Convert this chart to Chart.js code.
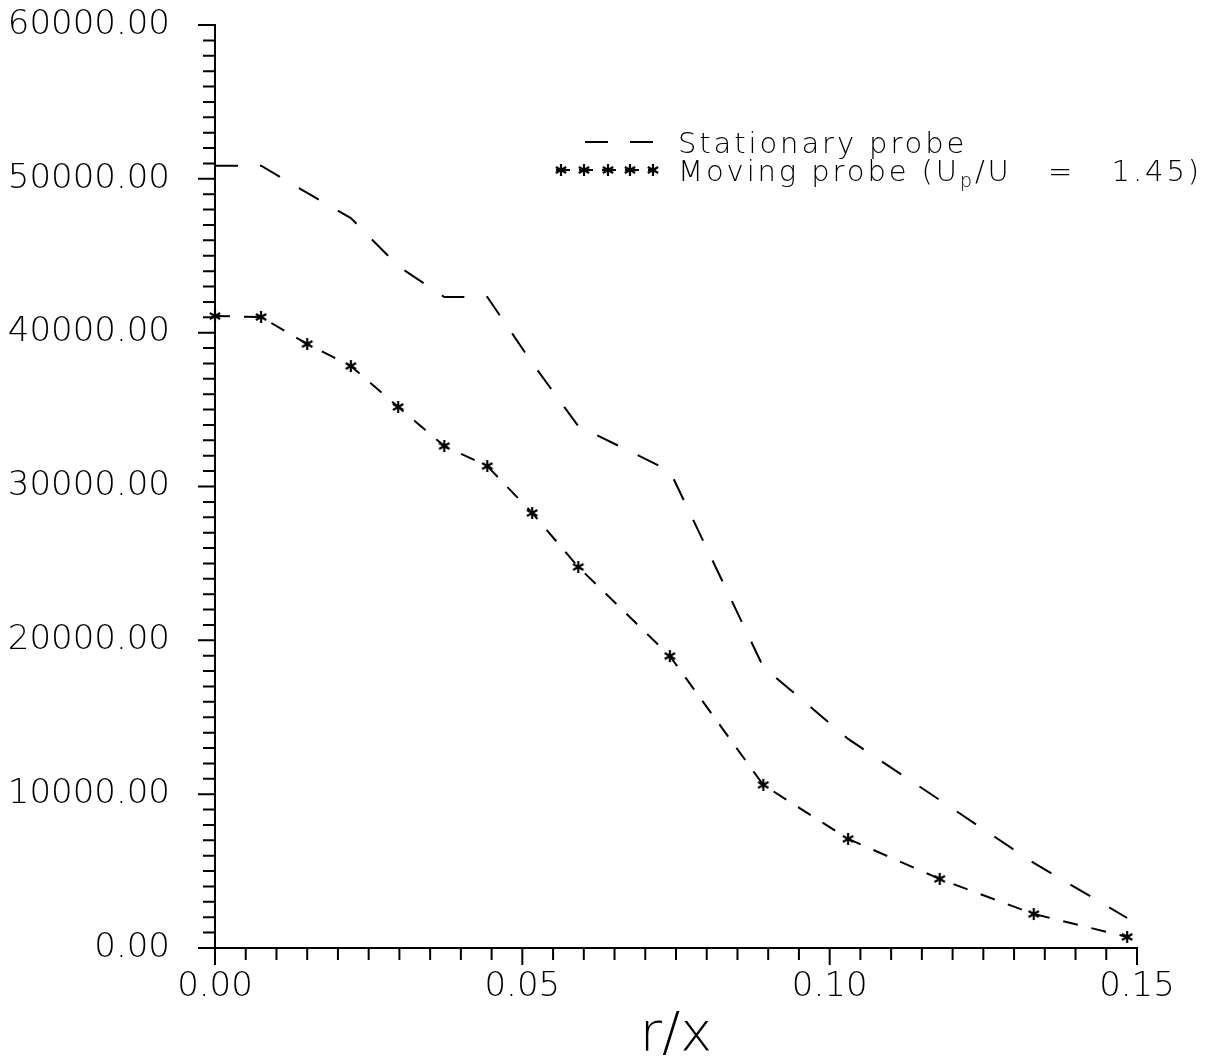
<!DOCTYPE html>
<html>
<head>
<meta charset="utf-8">
<script src="https://cdn.jsdelivr.net/npm/chart.js@4.4.0/dist/chart.umd.min.js"></script>
<style>
  html, body { margin: 0; padding: 0; background: #fff; }
  #wrap { width: 1207px; height: 1064px; }
</style>
</head>
<body>
<div id="wrap"><canvas id="probeChart" width="1207" height="1064"></canvas></div>
<script>
// r/x stations
const rOverX = [0, 0.0075, 0.0150, 0.0221, 0.0298, 0.0373, 0.0443, 0.0516, 0.0591, 0.0740, 0.0892, 0.1030, 0.1179, 0.1332, 0.1484];
const stationary = [50850, 50850, 49080, 47450, 44330, 42320, 42320, 38030, 33930, 31010, 18270, 13590, 9620, 5530, 1950];
const moving = [41080, 41020, 39260, 37830, 35170, 32630, 31330, 28280, 24770, 18980, 10600, 7090, 4490, 2210, 720];

const xTicks = [0, 0.05, 0.10, 0.15];
const yTicks = [0, 10000, 20000, 30000, 40000, 50000, 60000];
const xMinorStep = 0.005;
const yMinorStep = 1000;

const FONT = '"DejaVu Sans", sans-serif';

// six-armed asterisk used as point marker
function asterisk(r) {
  const c = document.createElement('canvas');
  c.width = c.height = 2 * r + 4;
  const g = c.getContext('2d');
  const m = r + 2;
  g.strokeStyle = '#000';
  g.lineWidth = 2.2;
  g.beginPath();
  for (let k = 0; k < 3; k++) {
    const a = Math.PI / 2 + k * Math.PI / 3;
    g.moveTo(m - r * Math.cos(a), m - r * Math.sin(a));
    g.lineTo(m + r * Math.cos(a), m + r * Math.sin(a));
  }
  g.stroke();
  return c;
}
const star = asterisk(6);

// minor + major tick marks on the outside of both axes
const tickMarks = {
  id: 'tickMarks',
  afterDraw(chart) {
    const { ctx, scales: { x, y } } = chart;
    ctx.save();
    ctx.strokeStyle = '#000';
    ctx.lineWidth = 2;
    ctx.beginPath();
    const nx = Math.round((x.max - x.min) / xMinorStep);
    for (let i = 0; i <= nx; i++) {
      const px = x.getPixelForValue(x.min + i * xMinorStep);
      const len = i % 10 === 0 ? 17 : 12;
      ctx.moveTo(px, x.top);
      ctx.lineTo(px, x.top + len);
    }
    const ny = Math.round((y.max - y.min) / yMinorStep);
    for (let i = 0; i <= ny; i++) {
      const py = y.getPixelForValue(y.min + i * yMinorStep);
      const len = i % 10 === 0 ? 17 : 12;
      ctx.moveTo(y.right, py);
      ctx.lineTo(y.right - len, py);
    }
    ctx.stroke();
    ctx.restore();
  }
};

// legend in the upper right, drawn by hand for the subscript
const probeLegend = {
  id: 'probeLegend',
  afterDraw(chart) {
    const { ctx } = chart;
    const ds = chart.data.datasets;
    ctx.save();
    ctx.strokeStyle = '#000';
    ctx.fillStyle = '#000';
    ctx.lineWidth = 2;
    ctx.letterSpacing = '2.9px';
    ctx.textBaseline = 'alphabetic';
    ctx.font = '200 29px ' + FONT;

    // row 1
    ctx.setLineDash(ds[0].borderDash);
    ctx.beginPath();
    ctx.moveTo(585, 142);
    ctx.lineTo(655, 142);
    ctx.stroke();
    ctx.fillText(ds[0].label, 678, 153);

    // row 2
    ctx.setLineDash([14, 9]);
    ctx.beginPath();
    ctx.moveTo(556, 170);
    ctx.lineTo(656, 170);
    ctx.stroke();
    ctx.setLineDash([]);
    [561, 584, 608, 630, 653].forEach(px => ctx.drawImage(star, px - star.width / 2, 170 - star.height / 2));

    let tx = 678;
    const part1 = ds[1].label + ' (U';
    ctx.fillText(part1, tx, 181);
    tx += ctx.measureText(part1).width;
    ctx.font = '200 19px ' + FONT;
    ctx.fillText('p', tx, 187);
    tx += ctx.measureText('p').width;
    ctx.font = '200 29px ' + FONT;
    ctx.fillText('/U   =   1.45)', tx, 181);
    ctx.restore();
  }
};

const ctx = document.getElementById('probeChart').getContext('2d');
new Chart(ctx, {
  type: 'line',
  data: {
    datasets: [{
      label: 'Stationary probe',
      data: rOverX.map((r, i) => ({ x: r, y: stationary[i] })),
      borderColor: '#000',
      borderWidth: 2,
      borderDash: [23, 22],
      pointRadius: 0,
      tension: 0,
      fill: false
    }, {
      label: 'Moving probe',
      data: rOverX.map((r, i) => ({ x: r, y: moving[i] })),
      borderColor: '#000',
      borderWidth: 2,
      borderDash: [15, 14],
      pointStyle: star,
      pointRadius: 6,
      tension: 0,
      fill: false,
      clip: false
    }]
  },
  options: {
    responsive: false,
    animation: false,
    layout: { padding: { top: 25, right: 70, left: 0, bottom: 0 } },
    plugins: {
      legend: { display: false },
      tooltip: { enabled: false }
    },
    scales: {
      x: {
        type: 'linear',
        min: 0,
        max: 0.15,
        afterBuildTicks: s => { s.ticks = xTicks.map(v => ({ value: v })); },
        afterFit: s => { s.height = 116; s.paddingLeft = 0; s.paddingRight = 0; },
        grid: { display: false, drawTicks: false },
        border: { display: true, color: '#000', width: 2 },
        ticks: {
          color: '#000',
          font: { family: FONT, size: 34, weight: '200' },
          padding: 19,
          maxRotation: 0,
          autoSkip: false,
          callback: v => v.toFixed(2)
        },
        title: {
          display: true,
          text: 'r/x',
          color: '#000',
          font: { family: FONT, size: 54, weight: '200' },
          padding: { top: 0, bottom: -4 }
        }
      },
      y: {
        type: 'linear',
        min: 0,
        max: 60000,
        afterBuildTicks: s => { s.ticks = yTicks.map(v => ({ value: v })); },
        afterFit: s => { s.width = 215; s.paddingTop = 0; s.paddingBottom = 0; },
        grid: { display: false, drawTicks: false },
        border: { display: true, color: '#000', width: 2 },
        ticks: {
          color: '#000',
          font: { family: FONT, size: 34, weight: '200' },
          padding: 45,
          autoSkip: false,
          callback: v => v.toFixed(2)
        }
      }
    }
  },
  plugins: [tickMarks, probeLegend]
});
</script>
</body>
</html>
